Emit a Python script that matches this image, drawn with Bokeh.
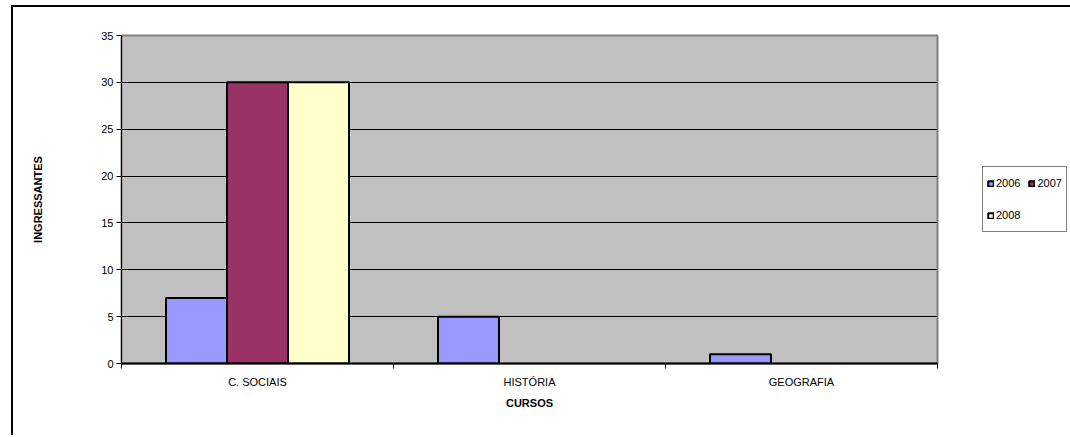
from bokeh.plotting import figure
from bokeh.models import ColumnDataSource, FixedTicker, Legend, LegendItem, Range1d
from bokeh.embed import file_html
from bokeh.resources import INLINE

courses = ["C. SOCIAIS", "HISTÓRIA", "GEOGRAFIA"]
years = ["2006", "2007", "2008"]
v2006 = [7, 5, 1]
v2007 = [30, 0, 0]
v2008 = [30, 0, 0]
y_ticks = [0, 5, 10, 15, 20, 25, 30, 35]

colors = ["#9999FF", "#993366", "#FFFFCC"]
series = [v2006, v2007, v2008]
FONT = "Liberation Sans"

p = figure(frame_width=816, frame_height=328, x_range=Range1d(0, 3), y_range=Range1d(0, 35),
           output_backend="svg", toolbar_location=None,
           min_border_left=108, min_border_right=131, min_border_top=28, min_border_bottom=72)
p.background_fill_color = "#C0C0C0"
p.border_fill_color = "white"
p.outline_line_color = "#808080"
p.outline_line_width = 2

bar_w = 0.2243
offsets = [-0.2243, 0.0, 0.2243]
items = {}
for yr, vals, col, off in zip(years, series, colors, offsets):
    xs = [i + 0.5 + off for i, v in enumerate(vals) if v > 0]
    tops = [v for v in vals if v > 0]
    src = ColumnDataSource(dict(x=xs, top=tops))
    r = p.vbar(x="x", top="top", bottom=0, width=bar_w, source=src,
               fill_color=col, line_color="black", line_width=2)
    items[yr] = LegendItem(label=yr, renderers=[r])

# grid
p.xgrid.visible = False
p.ygrid.ticker = FixedTicker(ticks=y_ticks[1:-1])
p.ygrid.grid_line_color = "black"
p.ygrid.grid_line_width = 1

# x axis
p.xaxis.ticker = FixedTicker(ticks=[i + 0.5 for i in range(len(courses))],
                             minor_ticks=list(range(len(courses) + 1)))
p.xaxis.major_label_overrides = {i + 0.5: c for i, c in enumerate(courses)}
p.xaxis.major_tick_out = 0
p.xaxis.major_tick_in = 0
p.xaxis.minor_tick_out = 5
p.xaxis.minor_tick_in = 0
p.xaxis.minor_tick_line_color = "black"
p.xaxis.axis_line_color = "black"
p.xaxis.axis_line_width = 2
p.xaxis.major_label_standoff = 7
p.xaxis.axis_label = "CURSOS"
p.xaxis.axis_label_standoff = 6

# y axis
p.yaxis.ticker = FixedTicker(ticks=y_ticks)
p.yaxis.major_tick_out = 5
p.yaxis.major_tick_in = 0
p.yaxis.minor_tick_out = 0
p.yaxis.minor_tick_in = 0
p.yaxis.major_tick_line_color = "black"
p.yaxis.axis_line_color = "black"
p.yaxis.axis_line_width = 1
p.yaxis.major_label_standoff = 3
p.yaxis.axis_label = "INGRESSANTES"
p.yaxis.axis_label_standoff = 54

for ax in (p.xaxis[0], p.yaxis[0]):
    ax.major_label_text_font = FONT
    ax.major_label_text_font_size = "11px"
    ax.major_label_text_color = "black"
    ax.axis_label_text_font = FONT
    ax.axis_label_text_font_size = "11px"
    ax.axis_label_text_font_style = "bold"
    ax.axis_label_text_color = "black"

# column-major two-row layout: row 1 = 2006, 2007; row 2 = 2008
legend = Legend(items=[items["2006"], items["2008"], items["2007"]],
                orientation="vertical", nrows=2, location="left")
legend.border_line_color = "black"
legend.border_line_width = 1
legend.background_fill_color = "white"
legend.background_fill_alpha = 1
legend.label_text_font = FONT
legend.label_text_font_size = "11px"
legend.label_text_color = "black"
legend.label_standoff = 2
legend.glyph_width = 7
legend.glyph_height = 7
legend.label_height = 24
legend.spacing = 8
legend.padding = 4
legend.margin = 45
p.add_layout(legend, "right")

p.styles = {"margin-left": "11px", "margin-top": "5px",
            "border-top": "2px solid black", "border-left": "2px solid black"}

open("out.html", "w").write(file_html(p, INLINE))
